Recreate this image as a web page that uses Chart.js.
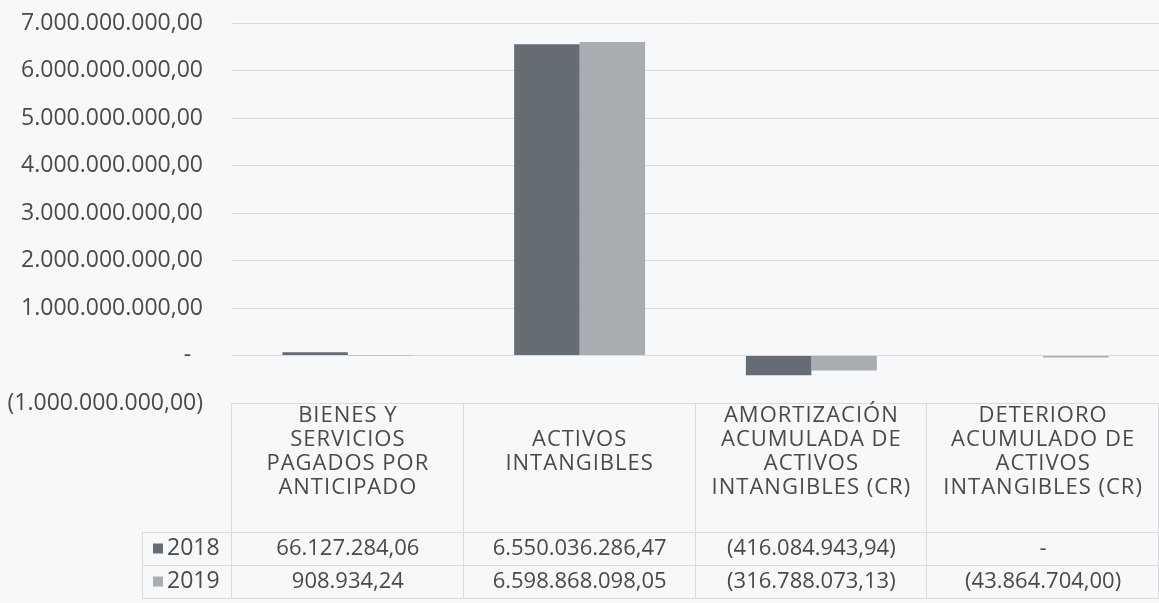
<!DOCTYPE html>
<html>
<head>
<meta charset="utf-8">
<script src="https://cdn.jsdelivr.net/npm/chart.js@4/dist/chart.umd.min.js"></script>
<style>
    html, body { margin: 0; padding: 0; background: #f7f8fa; }
    #wrap { width: 1159px; height: 603px; position: relative; }
</style>
</head>
<body>
<div id="wrap"><canvas id="chart"></canvas></div>
<script>
// Data -----------------------------------------------------------------------------------

var CATEGORIES = [
    ['BIENES Y', 'SERVICIOS', 'PAGADOS POR', 'ANTICIPADO'],
    ['ACTIVOS', 'INTANGIBLES'],
    ['AMORTIZACIÓN', 'ACUMULADA DE', 'ACTIVOS', 'INTANGIBLES (CR)'],
    ['DETERIORO', 'ACUMULADO DE', 'ACTIVOS', 'INTANGIBLES (CR)']
];

var SERIES_LABELS = ['2018', '2019'];

var VALUES_2018 = [66127284.06, 6550036286.47, -416084943.94, 0];
var VALUES_2019 = [908934.24, 6598868098.05, -316788073.13, -43864704.00];

var Y_MIN = -1000000000;
var Y_MAX = 7000000000;
var Y_STEP = 1000000000;

// Constants ------------------------------------------------------------------------------

var COLOR_2018 = '#656c73';
var COLOR_2019 = '#a9adb1';
var TEXT_COLOR = '#4a4a4a';
var LINE_COLOR = '#d9dbde';
var FONT = '"Open Sans", sans-serif';

// Helpers --------------------------------------------------------------------------------

function formatAccounting(value) {
    if (value === 0) {
        return '-';
    }
    var parts = Math.abs(value).toFixed(2).split('.');
    var intPart = parts[0].replace(/\B(?=(\d{3})+(?!\d))/g, '.');
    var text = intPart + ',' + parts[1];
    return value < 0 ? '(' + text + ')' : text;
}

// Data table drawn under the plot -------------------------------------------------------

var dataTablePlugin = {
    id: 'dataTable',
    afterDraw: function (chart) {
        var ctx = chart.ctx;
        var area = chart.chartArea;
        var xScale = chart.scales.x;
        var colWidth = (area.right - area.left) / CATEGORIES.length;

        var top = area.bottom;
        var headerBottom = 532;
        var rowHeight = 33;
        var labelLeft = 142;
        var rows = [VALUES_2018, VALUES_2019];
        var colors = [COLOR_2018, COLOR_2019];

        ctx.save();
        ctx.strokeStyle = LINE_COLOR;
        ctx.lineWidth = 1;

        // horizontal lines
        ctx.beginPath();
        ctx.moveTo(area.left, Math.round(top) + 0.5);
        ctx.lineTo(area.right, Math.round(top) + 0.5);
        for (var r = 0; r <= rows.length; r++) {
            var y = Math.round(headerBottom + r * rowHeight) + 0.5;
            ctx.moveTo(labelLeft, y);
            ctx.lineTo(area.right, y);
        }
        // vertical lines
        for (var c = 0; c <= CATEGORIES.length; c++) {
            var x = Math.round(area.left + c * colWidth) - 0.5;
            ctx.moveTo(x, top);
            ctx.lineTo(x, headerBottom + rows.length * rowHeight);
        }
        ctx.moveTo(labelLeft + 0.5, headerBottom);
        ctx.lineTo(labelLeft + 0.5, headerBottom + rows.length * rowHeight);
        ctx.stroke();

        ctx.fillStyle = TEXT_COLOR;
        ctx.textAlign = 'center';
        ctx.textBaseline = 'middle';

        // header labels, sitting in the upper part of the header row
        ctx.font = '22px ' + FONT;
        ctx.letterSpacing = '1px';
        var lineHeight = 24;
        var headerMid = top + 49;
        CATEGORIES.forEach(function (lines, i) {
            var cx = xScale.getPixelForValue(i);
            var startY = headerMid - (lines.length - 1) * lineHeight / 2;
            lines.forEach(function (line, j) {
                ctx.fillText(line, cx, startY + j * lineHeight);
            });
        });
        ctx.letterSpacing = '0px';

        // value rows with legend keys
        rows.forEach(function (values, r) {
            var cy = headerBottom + r * rowHeight + rowHeight / 2;
            ctx.fillStyle = colors[r];
            ctx.fillRect(153, cy - 5, 10, 10);
            ctx.fillStyle = TEXT_COLOR;
            ctx.textAlign = 'left';
            ctx.font = '23px ' + FONT;
            ctx.fillText(SERIES_LABELS[r], 167, cy);
            ctx.textAlign = 'center';
            ctx.font = '22px ' + FONT;
            values.forEach(function (v, i) {
                ctx.fillText(formatAccounting(v), xScale.getPixelForValue(i), cy);
            });
        });

        ctx.restore();
    }
};

// Chart ----------------------------------------------------------------------------------

var chart = new Chart(document.getElementById('chart').getContext('2d'), {
    type: 'bar',
    data: {
        labels: CATEGORIES.map(function (lines) { return lines.join(' '); }),
        datasets: [{
            label: SERIES_LABELS[0],
            data: VALUES_2018,
            backgroundColor: COLOR_2018
        }, {
            label: SERIES_LABELS[1],
            data: VALUES_2019,
            backgroundColor: COLOR_2019
        }]
    },
    options: {
        responsive: true,
        maintainAspectRatio: false,
        animation: false,
        categoryPercentage: 0.565,
        barPercentage: 1.0,
        layout: {
            padding: { top: 23, right: 0, bottom: 200, left: 0 }
        },
        plugins: {
            legend: { display: false },
            tooltip: { enabled: false }
        },
        scales: {
            x: {
                display: false
            },
            y: {
                min: Y_MIN,
                max: Y_MAX,
                border: { display: false },
                grid: {
                    color: LINE_COLOR,
                    drawTicks: true,
                    tickLength: 29,
                    tickColor: 'rgba(0,0,0,0)'
                },
                afterFit: function (scale) { scale.width = 232; },
                ticks: {
                    stepSize: Y_STEP,
                    padding: 0,
                    color: TEXT_COLOR,
                    font: { family: FONT, size: 23 },
                    callback: function (value) {
                        return value === 0 ? '-  ' : formatAccounting(value);
                    }
                }
            }
        }
    },
    plugins: [dataTablePlugin]
});
</script>
</body>
</html>
